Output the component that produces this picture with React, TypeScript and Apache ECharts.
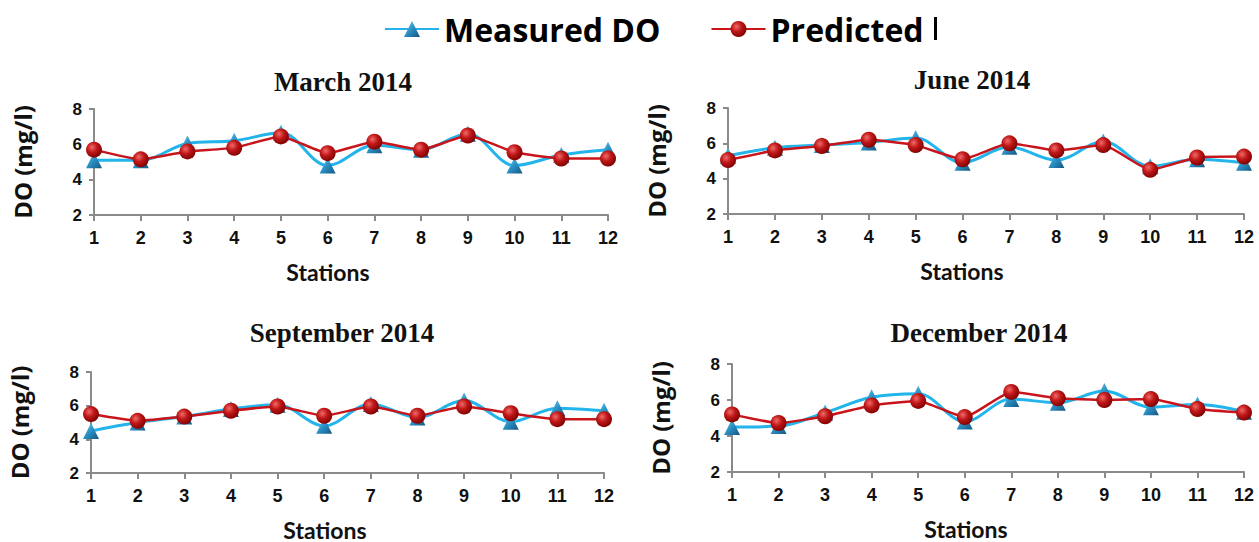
import React, { useEffect, useRef } from "react";
import * as echarts from "echarts";

const stations = ["1", "2", "3", "4", "5", "6", "7", "8", "9", "10", "11", "12"];
const yTicks = [2, 4, 6, 8];

const marchMeasured = [5.1, 5.1, 6.05, 6.2, 6.65, 4.8, 5.95, 5.7, 6.6, 4.8, 5.4, 5.7];
const marchPredicted = [5.7, 5.15, 5.6, 5.8, 6.45, 5.5, 6.15, 5.7, 6.5, 5.55, 5.2, 5.2];
const juneMeasured = [5.3, 5.75, 5.9, 6.05, 6.3, 4.9, 5.8, 5.05, 6.1, 4.7, 5.1, 4.9];
const junePredicted = [5.05, 5.6, 5.85, 6.2, 5.9, 5.1, 6.0, 5.6, 5.9, 4.5, 5.2, 5.25];
const septMeasured = [4.5, 5.0, 5.35, 5.8, 6.05, 4.8, 6.1, 5.3, 6.3, 5.05, 5.85, 5.7];
const septPredicted = [5.5, 5.1, 5.35, 5.7, 5.95, 5.4, 5.95, 5.4, 5.95, 5.55, 5.2, 5.2];
const decMeasured = [4.5, 4.55, 5.3, 6.15, 6.35, 4.8, 6.05, 5.85, 6.5, 5.6, 5.75, 5.35];
const decPredicted = [5.2, 4.72, 5.1, 5.7, 5.95, 5.05, 6.45, 6.1, 6.0, 6.05, 5.5, 5.3];

const titles = ["March 2014", "June 2014", "September 2014", "December 2014"];
const measuredSets = [marchMeasured, juneMeasured, septMeasured, decMeasured];
const predictedSets = [marchPredicted, junePredicted, septPredicted, decPredicted];

// layout (pixels)
const grids = [
  { left: 94, top: 109, width: 514, height: 106 },
  { left: 728, top: 108, width: 516, height: 106 },
  { left: 91, top: 372, width: 513, height: 104 },
  { left: 732, top: 364, width: 512, height: 108 },
];
const titlePos = [
  { x: 343, y: 82 },
  { x: 972, y: 80 },
  { x: 342, y: 333 },
  { x: 979, y: 333 },
];
const stationShift = [46, 48, 45, 44];

const BLUE_LINE = "#22B4EA";
const RED_LINE = "#C8151C";
const AXIS = "#8a8a8a";

export default function App() {
  const ref = useRef<HTMLDivElement | null>(null);

  useEffect(() => {
    if (!ref.current) return;
    const chart = echarts.init(ref.current, null, { renderer: "svg" });

    const triColor = new echarts.graphic.LinearGradient(0, 0, 1, 1, [
      { offset: 0, color: "#6FD0F2" },
      { offset: 0.5, color: "#2A8FC4" },
      { offset: 1, color: "#15567F" },
    ]);
    const ballColor = new echarts.graphic.RadialGradient(0.38, 0.35, 0.7, [
      { offset: 0, color: "#F06A6A" },
      { offset: 0.45, color: "#C01818" },
      { offset: 1, color: "#7A0000" },
    ]);

    const tickFont = "'Liberation Sans Narrow', 'Liberation Sans', Arial, sans-serif";

    const xAxis = grids.map((_, i) => ({
      type: "category",
      gridIndex: i,
      data: stations,
      boundaryGap: false,
      axisLine: { show: true, lineStyle: { color: AXIS, width: 2 } },
      axisTick: { show: true, length: 6, lineStyle: { color: AXIS, width: 2 } },
      axisLabel: {
        fontSize: 18,
        fontWeight: "bold",
        color: "#111",
        fontFamily: tickFont,
        margin: 14,
      },
      splitLine: { show: false },
      name: "Stations",
      nameLocation: "middle",
      nameGap: 45,
      nameTextStyle: {
        fontSize: 23,
        fontWeight: "bold",
        fontFamily: "Lato, 'Open Sans', sans-serif",
        color: "#111",
        padding: [0, stationShift[i], 0, 0],
      },
    }));

    const yAxis = grids.map((_, i) => ({
      type: "value",
      gridIndex: i,
      min: yTicks[0],
      max: yTicks[yTicks.length - 1],
      interval: 2,
      axisLine: { show: true, lineStyle: { color: AXIS, width: 2 } },
      axisTick: { show: true, length: 5, lineStyle: { color: AXIS, width: 2 } },
      axisLabel: {
        fontSize: 17,
        fontWeight: "bold",
        color: "#111",
        fontFamily: tickFont,
        margin: 12,
      },
      splitLine: { show: false },
      name: "DO (mg/l)",
      nameLocation: "middle",
      nameRotate: 90,
      nameGap: 60,
      nameTextStyle: {
        fontSize: 24,
        fontWeight: "bold",
        fontFamily: "'Open Sans', sans-serif",
        color: "#111",
      },
    }));

    const series: any[] = [];
    grids.forEach((_, i) => {
      series.push({
        name: "Measured DO",
        type: "line",
        xAxisIndex: i,
        yAxisIndex: i,
        data: measuredSets[i],
        smooth: 0.35,
        symbol: "triangle",
        symbolSize: 16,
        lineStyle: { color: BLUE_LINE, width: 3 },
        itemStyle: { color: triColor },
        z: 2,
      });
      series.push({
        name: "Predicted",
        type: "line",
        xAxisIndex: i,
        yAxisIndex: i,
        data: predictedSets[i],
        smooth: 0.15,
        symbol: "circle",
        symbolSize: 16,
        lineStyle: { color: RED_LINE, width: 2.5 },
        itemStyle: { color: ballColor },
        z: 3,
      });
    });

    chart.setOption({
      animation: false,
      backgroundColor: "#ffffff",
      legend: {
        left: 379,
        top: 8,
        itemWidth: 54,
        itemHeight: 20,
        itemGap: 50,
        data: ["Measured DO", "Predicted"],
        textStyle: {
          fontSize: 32,
          fontWeight: "bold",
          fontFamily: "'Open Sans', sans-serif",
          color: "#000",
        },
      },
      grid: grids.map((g) => ({ ...g, containLabel: false })),
      xAxis,
      yAxis,
      series,
      graphic: [
        ...titles.map((t, i) => ({
          type: "text",
          x: titlePos[i].x,
          y: titlePos[i].y,
          style: {
            text: t,
            fontSize: 27,
            fontWeight: "bold",
            fontFamily: "'Liberation Serif', 'DejaVu Serif', serif",
            fill: "#111",
            textAlign: "center",
            textVerticalAlign: "middle",
          },
        })),
        {
          type: "rect",
          shape: { x: 934, y: 17, width: 3, height: 23 },
          style: { fill: "#000" },
        },
      ],
    });

    return () => chart.dispose();
  }, []);

  return (
    <div
      ref={ref}
      style={{ position: "fixed", left: 0, top: 0, width: 1259, height: 542, background: "#fff" }}
    />
  );
}
